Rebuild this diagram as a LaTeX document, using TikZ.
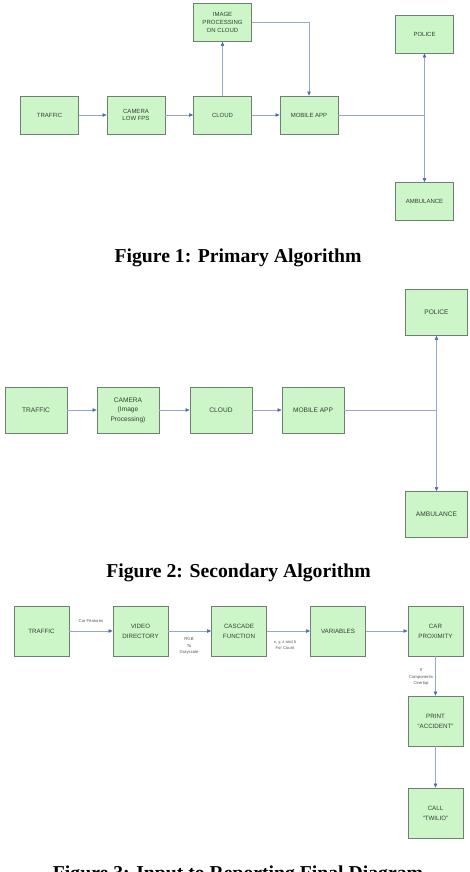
\documentclass[tikz,border=0pt]{standalone}
\usepackage{fontspec}
\setmainfont{Liberation Serif}
\newfontfamily\boxfontfam{Liberation Sans}
\usetikzlibrary{arrows.meta,positioning}
\definecolor{boxfill}{RGB}{204,245,200}
\definecolor{boxborder}{RGB}{112,128,112}
\definecolor{boxtext}{RGB}{50,64,50}
\definecolor{linecol}{RGB}{150,166,206}
\definecolor{arrowblue}{RGB}{74,106,176}
\definecolor{labeltext}{RGB}{80,90,80}
\tikzset{
  blk/.style={draw=boxborder, fill=boxfill, line width=0.8pt, inner sep=0pt, align=center, text=boxtext},
  boxa/.style={blk, minimum width=58pt, minimum height=38pt, font=\boxfontfam\fontsize{6}{7.7}\selectfont},
  boxb/.style={blk, minimum width=62pt, minimum height=46pt, font=\boxfontfam\fontsize{6.6}{9.5}\selectfont},
  boxc/.style={blk, minimum width=55pt, minimum height=50pt, font=\boxfontfam\fontsize{6.2}{10}\selectfont},
  conn/.style={draw=linecol, line width=0.6pt},
  arr/.style={conn, -{Triangle[length=4pt,width=3.4pt,color=arrowblue]}},
  lbl/.style={inner sep=0pt, align=center, text=labeltext, font=\boxfontfam\fontsize{4.2}{6.5}\selectfont},
  figcap/.style={inner sep=0pt, font=\bfseries\fontsize{19.7}{22}\selectfont}
}
\begin{document}
\begin{tikzpicture}[x=1pt,y=-1pt]
\useasboundingbox (0,0) rectangle (469,872);
\fill[white] (0,0) rectangle (469,872);

% ---------- Figure 1 ----------
\node[boxa] (traffic1) at (49.5,115) {TRAFFIC};
\node[boxa] (camera1) at (136,115) {CAMERA\\LOW FPS};
\node[boxa] (cloud1) at (222.5,115) {CLOUD};
\node[boxa] (mobile1) at (309,115) {MOBILE APP};
\node[boxa] (improc1) at (222.5,22.5) {IMAGE\\PROCESSING\\ON CLOUD};
\node[boxa] (police1) at (424.5,34) {POLICE};
\node[boxa] (amb1) at (424.5,201.5) {AMBULANCE};
\coordinate (j1) at (424.5,115);
\draw[arr] (traffic1) -- (camera1);
\draw[arr] (camera1) -- (cloud1);
\draw[arr] (cloud1) -- (mobile1);
\draw[arr] (cloud1) -- (improc1);
\draw[arr] (improc1.east) -| (mobile1.north);
\draw[conn] (mobile1.east) -- (j1);
\draw[arr] (j1) -- (police1.south);
\draw[arr] (j1) -- (amb1.north);
\node[figcap] (cap1) at (238,258) {Figure 1: Primary Algorithm};

% ---------- Figure 2 ----------
\node[boxb] (traffic2) at (36,410) {TRAFFIC};
\node[boxb] (camera2) at (128,410) {CAMERA\\(Image\\Processing)};
\node[boxb] (cloud2) at (221,410) {CLOUD};
\node[boxb] (mobile2) at (313,410) {MOBILE APP};
\node[boxb] (police2) at (436.5,312.5) {POLICE};
\node[boxb] (amb2) at (436.5,514.5) {AMBULANCE};
\coordinate (j2) at (436.5,410);
\draw[arr] (traffic2) -- (camera2);
\draw[arr] (camera2) -- (cloud2);
\draw[arr] (cloud2) -- (mobile2);
\draw[conn] (mobile2.east) -- (j2);
\draw[arr] (j2) -- (police2.south);
\draw[arr] (j2) -- (amb2.north);
\node[figcap] (cap2) at (238.5,573) {Figure 2: Secondary Algorithm};

% ---------- Figure 3 ----------
\node[boxc] (traffic3) at (41.5,631) {TRAFFIC};
\node[boxc] (video3) at (140.5,631) {VIDEO\\DIRECTORY};
\node[boxc] (cascade3) at (239,631) {CASCADE\\FUNCTION};
\node[boxc] (vars3) at (338,631) {VARIABLES};
\node[boxc] (car3) at (435.5,631) {CAR\\PROXIMITY};
\node[boxc] (print3) at (435.5,721) {PRINT\\“ACCIDENT”};
\node[boxc] (call3) at (435.5,813) {CALL\\“TWILIO”};
\draw[arr] (traffic3) -- (video3);
\draw[arr] (video3) -- (cascade3);
\draw[arr] (cascade3) -- (vars3);
\draw[arr] (vars3) -- (car3);
\draw[arr] (car3) -- (print3);
\draw[arr] (print3) -- (call3);
\node[lbl] (l1) at (91,621) {Car Features};
\node[lbl] (l2) at (189,646) {RGB\\To\\Grayscale};
\node[lbl] (l3) at (285,645) {x, y, z and h\\For Count};
\node[lbl] (l4) at (421,677) {If\\Components\\Overlap};
\node[figcap, anchor=base] (cap3) at (238,879) {Figure 3: Input to Reporting Final Diagram};
\end{tikzpicture}
\end{document}
